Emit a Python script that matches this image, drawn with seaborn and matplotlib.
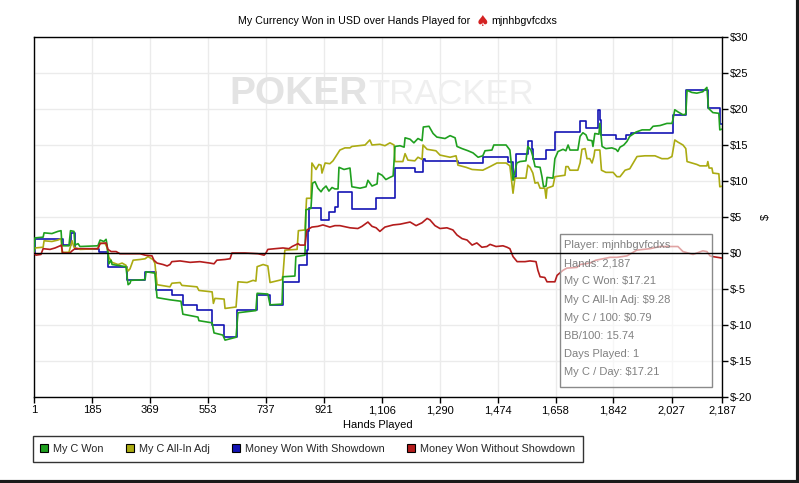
import matplotlib
matplotlib.use("Agg")
import matplotlib.pyplot as plt
import numpy as np
import pandas as pd
import seaborn as sns
from matplotlib.lines import Line2D
from matplotlib.patches import Rectangle

# ---------------- data ----------------
x_ticks = [1, 185, 369, 553, 737, 921, 1106, 1290, 1474, 1658, 1842, 2027, 2187]
y_ticks = [-20, -15, -10, -5, 0, 5, 10, 15, 20, 25, 30]

won_hands = [1, 4, 30, 33, 58, 77, 87, 90, 112, 117, 128, 131, 141, 147, 204, 211, 223, 230, 233, 239,
             246, 249, 293, 300, 306, 309, 354, 357, 385, 392, 433, 468, 474, 522, 525, 567, 573, 601,
             608, 643, 649, 706, 710, 744, 751, 789, 792, 830, 833, 862, 865, 881, 886, 894, 903, 913,
             919, 929, 938, 948, 957, 967, 970, 986, 1005, 1011, 1037, 1056, 1062, 1075, 1091, 1094,
             1107, 1119, 1132, 1142, 1148, 1164, 1177, 1180, 1196, 1208, 1221, 1234, 1238, 1256, 1269,
             1281, 1307, 1323, 1339, 1345, 1361, 1380, 1396, 1412, 1427, 1434, 1456, 1462, 1501, 1513,
             1523, 1535, 1545, 1564, 1570, 1580, 1586, 1593, 1609, 1615, 1620, 1628, 1631, 1650, 1656,
             1666, 1682, 1691, 1698, 1704, 1729, 1736, 1745, 1755, 1761, 1774, 1777, 1783, 1796, 1799,
             1806, 1818, 1837, 1850, 1856, 1863, 1875, 1885, 1894, 1914, 1933, 1958, 1968, 1990, 2012,
             2028, 2031, 2037, 2047, 2063, 2072, 2076, 2091, 2107, 2126, 2139, 2144, 2158, 2177, 2180,
             2187]
won_values = [0, 2.1, 2.2, 2.8, 2.7, 3.0, 3.1, 1.0, 1.0, 3.1, 3.0, 1.1, 1.3, 0.9, 1.0, 1.8, 1.6, 1.9, 1.2, -1.5,
              -1.0, -1.6, -1.9, -4.4, -4.2, -3.8, -3.7, -2.6, -2.8, -6.2, -6.5, -6.7, -8.5, -8.9, -9.4, -9.7, -11.1, -11.4,
              -12.1, -11.7, -8.3, -8.0, -5.6, -5.7, -7.2, -7.1, -3.3, -3.2, -0.5, -0.3, 6.0, 6.2, 9.7, 9.9, 9.0, 8.5,
              8.9, 9.3, 8.6, 9.1, 8.9, 8.9, 11.9, 11.6, 11.8, 9.2, 9.0, 9.2, 10.1, 9.3, 9.6, 11.1,
              10.8, 10.2, 10.5, 10.7, 14.8, 14.9, 14.7, 16.0, 15.8, 15.3, 15.9, 15.6, 17.5, 17.6, 16.6,
              16.1, 15.9, 16.3, 16.0, 14.8, 14.5, 14.2, 13.9, 13.3, 13.5, 14.2, 14.3, 15.0, 15.0, 14.3,
              10.1, 12.5, 12.7, 12.8, 14.8, 14.3, 13.4, 12.0, 11.9, 10.6, 9.2, 9.3, 10.5, 10.4, 13.1,
              14.1, 14.4, 14.2, 15.0, 14.3, 14.3, 16.2, 16.7, 16.4, 15.7, 15.6, 14.8, 16.6, 16.5, 18.0,
              14.8, 14.5, 14.6, 14.4, 14.1, 14.7, 15.0, 15.5, 16.2, 16.8, 17.1, 17.1, 17.6, 17.7, 18.0,
              18.0, 18.5, 19.9, 19.6, 19.2, 19.3, 22.6, 22.3, 22.2, 22.4, 23.0, 20.1, 19.5, 19.4, 17.1,
              17.21]

allin_hands = [1, 4, 30, 33, 58, 77, 87, 90, 112, 117, 122, 128, 147, 204, 211, 227, 233, 239, 249, 268,
               281, 293, 300, 306, 316, 338, 354, 363, 379, 385, 392, 433, 439, 465, 471, 519, 525, 567,
               571, 576, 605, 608, 643, 649, 678, 697, 706, 710, 729, 744, 751, 789, 792, 798, 837, 841,
               862, 867, 881, 884, 897, 906, 913, 916, 926, 941, 951, 973, 989, 1005, 1011, 1053, 1068,
               1075, 1100, 1116, 1132, 1145, 1148, 1173, 1180, 1189, 1211, 1221, 1234, 1237, 1250, 1278,
               1291, 1323, 1342, 1348, 1374, 1393, 1427, 1450, 1472, 1501, 1513, 1523, 1529, 1545, 1564,
               1570, 1577, 1586, 1593, 1602, 1609, 1624, 1628, 1631, 1650, 1656, 1688, 1691, 1698, 1704,
               1729, 1736, 1742, 1752, 1758, 1767, 1774, 1780, 1783, 1799, 1804, 1818, 1841, 1853, 1863,
               1879, 1894, 1917, 1942, 1974, 1996, 2015, 2028, 2037, 2047, 2063, 2072, 2076, 2091, 2107,
               2117, 2139, 2142, 2146, 2155, 2158, 2177, 2180, 2187]
allin_values = [0, 0.7, 0.8, 1.7, 1.6, 1.8, 2.0, 0.1, 0.1, 0.9, 1.7, 0.8, 0.5, 0.6, 1.4, 1.3, 0.8, -0.6, -1.3, -1.6,
                -1.4, -1.7, -2.5, -2.2, -1.0, -0.9, -0.8, -0.5, -0.9, -1.4, -4.4, -4.7, -4.2, -4.1, -4.5, -4.7, -5.2, -5.4,
                -7.0, -6.3, -6.4, -7.7, -7.5, -4.0, -4.1, -3.8, -3.9, -1.9, -1.6, -1.8, -4.1, -3.7, -3.1, 0.4, 0.5, 3.1,
                3.2, 7.6, 7.6, 12.5, 11.6, 12.3, 12.2, 11.1, 12.5, 12.4, 12.8, 14.3, 14.6, 14.6, 14.8, 15.0, 15.7,
                15.0, 15.1, 14.9, 15.3, 15.0, 12.7, 12.7, 13.8, 12.9, 12.8, 13.3, 13.0, 15.0, 14.4, 14.2,
                13.6, 13.3, 13.5, 12.2, 11.9, 11.6, 11.5, 12.0, 12.5, 12.5, 12.1, 8.3, 10.4, 10.4, 10.4,
                12.2, 11.9, 11.1, 9.7, 9.8, 9.0, 9.0, 7.6, 9.0, 9.3, 10.6, 10.8, 12.0, 12.0, 11.5,
                11.5, 12.5, 14.4, 14.5, 13.1, 13.1, 12.5, 13.4, 14.3, 14.3, 11.5, 11.2, 11.2, 10.6, 10.6,
                11.5, 11.7, 13.4, 13.5, 13.5, 13.1, 13.1, 13.4, 15.7, 15.4, 15.0, 14.5, 12.7, 12.5, 12.3,
                12.1, 12.1, 12.7, 11.8, 11.8, 11.1, 11.0, 9.2, 9.28]

sd_hands = [1, 4, 92, 117, 131, 206, 236, 296, 354, 390, 441, 473, 520, 568, 605, 646, 711, 751, 792,
            843, 867, 873, 876, 914, 938, 957, 967, 1010, 1088, 1148, 1211, 1237, 1243, 1348, 1427,
            1507, 1523, 1534, 1570, 1582, 1586, 1629, 1656, 1736, 1756, 1793, 1799, 1804, 1851, 1883,
            1898, 2031, 2074, 2141, 2180, 2187]
sd_values = [0, 1.9, 1.1, 2.8, 0.6, 0.2, -1.9, -3.7, -2.6, -5.1, -5.8, -7.2, -7.9, -10.0, -11.6, -7.9, -5.8, -7.2, -4.0,
             -1.6, 0.4, 3.0, 6.2, 4.6, 5.7, 6.4, 8.5, 6.1, 7.7, 11.8, 11.3, 13.1, 12.8, 12.5, 13.3,
             12.7, 10.6, 13.8, 15.6, 14.5, 13.1, 14.3, 16.8, 18.3, 17.3, 19.9, 18.5, 16.4, 15.8, 16.4,
             16.7, 19.2, 22.6, 20.1, 17.9, 17.9]

nsd_hands = [1, 7, 23, 30, 52, 68, 84, 88, 92, 115, 122, 131, 179, 204, 211, 230, 236, 246, 262, 274,
             338, 354, 376, 382, 392, 411, 424, 433, 439, 465, 497, 528, 560, 573, 582, 608, 624, 630,
             671, 713, 732, 738, 744, 767, 792, 811, 821, 840, 846, 862, 868, 884, 903, 919, 941, 957,
             973, 1005, 1030, 1043, 1062, 1075, 1088, 1100, 1116, 1142, 1164, 1196, 1215, 1234, 1250,
             1259, 1275, 1291, 1313, 1332, 1345, 1361, 1377, 1393, 1408, 1424, 1440, 1450, 1469, 1491,
             1504, 1513, 1523, 1536, 1561, 1577, 1596, 1602, 1609, 1624, 1631, 1656, 1663, 1682, 1694,
             1726, 1736, 1752, 1767, 1786, 1809, 1831, 1853, 1885, 1901, 1916, 1958, 1990, 2047, 2063,
             2095, 2126, 2139, 2149, 2158, 2187]
nsd_values = [0, -0.3, -0.2, 0.6, 0.5, 0.7, 1.0, 1.1, 0.0, 0.0, 0.3, 0.6, 0.6, 0.6, 1.3, 1.4, 0.5, 0.2, 0.2, -0.1,
              -0.1, -0.3, -0.4, -1.0, -1.4, -1.6, -1.8, -1.6, -1.2, -1.1, -1.3, -1.2, -1.4, -1.5, -1.0, -0.9, -0.8, 0.0,
              0.0, -0.1, -0.3, 0.0, 0.5, 0.6, 0.7, 0.6, 0.9, 1.3, 1.1, 1.1, 3.2, 3.6, 3.7, 3.9, 3.6, 3.8,
              3.8, 3.5, 3.4, 3.7, 4.3, 3.7, 3.5, 3.0, 3.6, 3.9, 4.0, 4.3, 3.8, 4.2, 4.8,
              4.6, 3.8, 3.4, 3.5, 3.2, 2.5, 2.0, 1.8, 1.1, 1.4, 0.8, 0.9, 1.2, 0.9, 1.0,
              0.8, 0.6, -0.5, -1.2, -1.2, -1.1, -1.2, -2.4, -3.3, -3.4, -4.0, -4.0, -3.1, -2.4, -2.1,
              -2.0, -1.6, -1.5, -1.4, -1.0, -0.8, -0.6, -0.6, -0.4, 0.0, 0.4, 0.6, 0.9, 0.9, 0.2,
              -0.2, 0.3, 0.2, -0.4, -0.5, -0.7]

series_names = ["My C Won", "My C All-In Adj", "Money Won With Showdown", "Money Won Without Showdown"]
series_colors = ["#1fa01f", "#abab12", "#1414b4", "#b41c1c"]

info_lines = ["Player: mjnhbgvfcdxs", "Hands: 2,187", "My C Won: $17.21", "My C All-In Adj: $9.28",
              "My C / 100: $0.79", "BB/100: 15.74", "Days Played: 1", "My C / Day: $17.21"]

# ---------------- figure ----------------
sns.set_theme(style="white")
plt.rcParams["font.family"] = ["Liberation Sans", "DejaVu Sans"]

W, H = 799, 483
fig = plt.figure(figsize=(W / 100, H / 100), dpi=100)
fig.patch.set_facecolor("white")
ax = fig.add_axes([34 / W, 1 - 397 / H, 688 / W, 360 / H])
ax.set_facecolor("white")

frames = [
    (won_hands, won_values, series_colors[0], 3, None),
    (allin_hands, allin_values, series_colors[1], 2.9, None),
    (sd_hands, sd_values, series_colors[2], 2.8, "steps-post"),
    (nsd_hands, nsd_values, series_colors[3], 3.1, None),
]
for hands, vals, col, z, ds in frames:
    df = pd.DataFrame({"hand": hands, "value": vals})
    kw = dict(drawstyle=ds) if ds else {}
    sns.lineplot(data=df, x="hand", y="value", ax=ax, color=col, linewidth=1.2,
                 estimator=None, sort=False, legend=False, zorder=z, **kw)

ax.set_xlim(1, 2187)
ax.set_ylim(-20, 30)
ax.set_xticks(x_ticks)
ax.set_xticklabels([f"{t:,}" for t in x_ticks])
ax.set_yticks(y_ticks)
ax.set_yticklabels([r"\$" + f"{t}" for t in y_ticks])
ax.yaxis.tick_right()
ax.yaxis.set_label_position("right")
ax.grid(True, color="#ebebeb", linewidth=1)
ax.set_axisbelow(True)
ax.axhline(0, color="black", linewidth=1, zorder=6)

for s in ax.spines.values():
    s.set_color("black")
    s.set_linewidth(1)
ax.tick_params(axis="x", bottom=True, direction="out", length=4, width=1, color="black",
               labelsize=8, pad=2, labelcolor="black")
ax.tick_params(axis="y", right=True, left=False, direction="out", length=4, width=1, color="black",
               labelsize=8, pad=2, labelcolor="black")

ax.set_xlabel("Hands Played", fontsize=8, color="black")
ax.xaxis.set_label_coords(0.5, -0.064)
ax.set_ylabel(r"\$", fontsize=8, color="black", rotation=90)
ax.yaxis.set_label_coords((761 - 34) / 688, 0.5)

# watermark
ax.text(229 / W, 1 - 104 / H, "POKER", transform=fig.transFigure, fontsize=28, fontweight="bold",
        color="#e3e3e3", ha="left", va="baseline", zorder=0.6)
ax.text(368 / W, 1 - 104 / H, "TRACKER", transform=fig.transFigure, fontsize=25,
        color="#efefef", ha="left", va="baseline", zorder=0.6)

# info box
ax.add_patch(Rectangle((560 / W, 1 - 387 / H), 152 / W, 153 / H, transform=fig.transFigure,
                       facecolor=(1, 1, 1, 0.6), edgecolor="#8a8a8a", linewidth=1, zorder=5,
                       clip_on=False))
for i, line in enumerate(info_lines):
    ax.text(564 / W, 1 - (245 + i * 18.2) / H, line.replace("$", r"\$"), transform=fig.transFigure,
            fontsize=8, color="#808080", ha="left", va="center", zorder=7)

# title
fig.text(470 / W, 1 - 21 / H, "My Currency Won in USD over Hands Played for", fontsize=7.7,
         ha="right", va="center", color="black")
fig.text(482 / W, 1 - 21 / H, "\u2660", fontsize=11, ha="center", va="center", color="#d42222",
         family="DejaVu Sans")
fig.text(491 / W, 1 - 21 / H, "mjnhbgvfcdxs", fontsize=7.7, ha="left", va="center", color="black")

# legend
handles = [Line2D([0], [0], marker="s", color="none", markerfacecolor=c, markeredgecolor="black",
                  markersize=6, markeredgewidth=0.8) for c in series_colors]
leg = fig.legend(handles, series_names, loc="upper left", bbox_to_anchor=(33 / W, 1 - 436 / H),
                 ncol=4, frameon=True, fancybox=False, edgecolor="black", fontsize=7.8,
                 handlelength=0.6, handletextpad=0.5, columnspacing=2.15, borderpad=0.75,
                 borderaxespad=0)
leg.get_frame().set_linewidth(1)

# outer frame (right and bottom)
fig.add_artist(Line2D([1 - 1.5 / W, 1 - 1.5 / W], [0, 1], transform=fig.transFigure,
                      color="#1a1a1a", linewidth=3))
fig.add_artist(Line2D([0, 1], [1.5 / H, 1.5 / H], transform=fig.transFigure,
                      color="#1a1a1a", linewidth=3))

fig.savefig("out.png", dpi=100)
